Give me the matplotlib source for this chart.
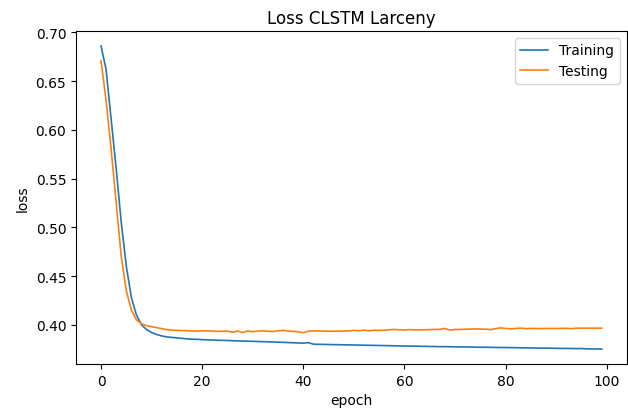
import numpy as np
import matplotlib
matplotlib.use('Agg')
import matplotlib.pyplot as plt

epochs = np.arange(100)

training = [0.686, 0.662, 0.611, 0.560, 0.505, 0.460, 0.428, 0.410, 0.400, 0.395,
            0.392, 0.390, 0.3885, 0.3875, 0.387, 0.3865, 0.386, 0.3855, 0.3852, 0.385,
            0.3847, 0.3845, 0.3843, 0.3841, 0.3840, 0.3838, 0.3836, 0.3834, 0.3833, 0.3831,
            0.3830, 0.3828, 0.3826, 0.3825, 0.3823, 0.3821, 0.3819, 0.3817, 0.3815, 0.3813,
            0.3811, 0.3816, 0.3800, 0.3799, 0.3798, 0.3797, 0.3796, 0.3795, 0.3794, 0.3793,
            0.3792, 0.3791, 0.3790, 0.3789, 0.3788, 0.3787, 0.3786, 0.3785, 0.3784, 0.3783,
            0.3782, 0.3781, 0.3780, 0.3779, 0.3778, 0.3777, 0.3776, 0.3775, 0.3775, 0.3774,
            0.3773, 0.3772, 0.3772, 0.3771, 0.3770, 0.3769, 0.3769, 0.3768, 0.3767, 0.3766,
            0.3766, 0.3765, 0.3764, 0.3763, 0.3763, 0.3762, 0.3761, 0.3760, 0.3760, 0.3759,
            0.3758, 0.3757, 0.3757, 0.3756, 0.3755, 0.3756, 0.3752, 0.3752, 0.3751, 0.3751]

testing = [0.671, 0.630, 0.580, 0.525, 0.470, 0.435, 0.415, 0.405, 0.401, 0.399,
           0.398, 0.397, 0.396, 0.395, 0.3945, 0.3942, 0.394, 0.3938, 0.3935, 0.3935,
           0.3937, 0.3938, 0.3935, 0.3932, 0.3933, 0.3935, 0.3922, 0.3935, 0.3920, 0.3937,
           0.3928, 0.3935, 0.3937, 0.3933, 0.3930, 0.3938, 0.3943, 0.3935, 0.3933, 0.3928,
           0.3918, 0.3933, 0.3937, 0.3937, 0.3935, 0.3933, 0.3933, 0.3935, 0.3935, 0.3937,
           0.3942, 0.3938, 0.3945, 0.3937, 0.3943, 0.3942, 0.3944, 0.3948, 0.3952, 0.3948,
           0.3945, 0.3950, 0.3947, 0.3947, 0.3948, 0.3950, 0.3952, 0.3952, 0.3962, 0.3945,
           0.3952, 0.3952, 0.3954, 0.3955, 0.3958, 0.3955, 0.3955, 0.3950, 0.3960, 0.3968,
           0.3962, 0.3957, 0.3962, 0.3965, 0.3960, 0.3962, 0.3962, 0.3960, 0.3962, 0.3962,
           0.3962, 0.3962, 0.3963, 0.3960, 0.3965, 0.3965, 0.3965, 0.3965, 0.3965, 0.3965]

fig, ax = plt.subplots(figsize=(6.28, 4.14), dpi=100)
ax.plot(epochs, training, label='Training', linewidth=1.2)
ax.plot(epochs, testing, label='Testing', linewidth=1.2)
ax.set_title('Loss CLSTM Larceny')
ax.set_xlabel('epoch')
ax.set_ylabel('loss')
ax.legend(loc='upper right')
fig.subplots_adjust(left=0.121, right=0.998, top=0.923, bottom=0.118)
fig.savefig('out.png', dpi=100)
